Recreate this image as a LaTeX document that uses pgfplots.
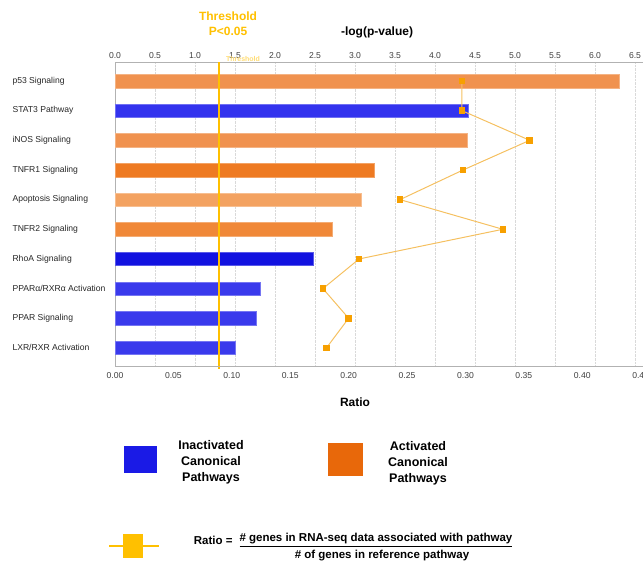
\documentclass[border=0pt]{standalone}
\usepackage{fontspec}
\setmainfont{Liberation Sans}
\usepackage{pgfplots}
\pgfplotsset{compat=1.18}
\definecolor{thr}{HTML}{FFC000}
\definecolor{orA}{HTML}{F0924F}
\definecolor{orB}{HTML}{EE7A22}
\definecolor{orC}{HTML}{F3A261}
\definecolor{orD}{HTML}{F08838}
\definecolor{blA}{HTML}{3333EE}
\definecolor{blB}{HTML}{1212E0}
\definecolor{blC}{HTML}{3A3AEC}
\definecolor{lineor}{HTML}{F5C060}
\definecolor{markor}{HTML}{F7A000}
\definecolor{legblue}{HTML}{1A1AE6}
\definecolor{legor}{HTML}{E8680A}
\newcommand{\ticksize}{\fontsize{8.6bp}{10bp}\selectfont}
\begin{document}
\begin{tikzpicture}[x=1bp,y=1bp]
\useasboundingbox (0,0) rectangle (643,-563);
% bars axis (-log p)
\begin{axis}[
  at={(115bp,-62bp)}, anchor=north west,
  scale only axis, width=528bp, height=304bp,
  xmin=0, xmax=6.6, ymin=-0.64, ymax=9.61, y dir=reverse,
  clip=false,
  axis x line*=top, axis y line*=left,
  axis line style={gray!60, line width=0.8pt},
  xtick={0,0.5,...,6.5},
  xticklabel style={font=\ticksize, text=black!75, /pgf/number format/fixed, /pgf/number format/fixed zerofill, /pgf/number format/precision=1, /pgf/number format/assume math mode=true},
  major tick length=0pt,
  xmajorgrids, grid style={gray!30, densely dotted, line width=0.5pt},
  ytick={0,...,9},
  yticklabels={p53 Signaling, STAT3 Pathway, iNOS Signaling, TNFR1 Signaling, Apoptosis Signaling, TNFR2 Signaling, RhoA Signaling, PPARα/RXRα Activation, PPAR Signaling, LXR/RXR Activation},
  yticklabel style={font=\ticksize, text=black!85, anchor=west, xshift=-106bp},
]
\addplot[xbar, bar shift=0pt, bar width=13.5bp, fill=orA, draw=orA!70!white] coordinates {(6.30,0)};
\addplot[xbar, bar shift=0pt, bar width=13.5bp, fill=blA, draw=blA!70!white] coordinates {(4.41,1)};
\addplot[xbar, bar shift=0pt, bar width=13.5bp, fill=orA, draw=orA!70!white] coordinates {(4.40,2)};
\addplot[xbar, bar shift=0pt, bar width=13.5bp, fill=orB, draw=orB!70!white] coordinates {(3.24,3)};
\addplot[xbar, bar shift=0pt, bar width=13.5bp, fill=orC, draw=orC!70!white] coordinates {(3.08,4)};
\addplot[xbar, bar shift=0pt, bar width=13.5bp, fill=orD, draw=orD!70!white] coordinates {(2.71,5)};
\addplot[xbar, bar shift=0pt, bar width=13.5bp, fill=blB, draw=blB!70!white] coordinates {(2.48,6)};
\addplot[xbar, bar shift=0pt, bar width=13.5bp, fill=blC, draw=blC!70!white] coordinates {(1.81,7)};
\addplot[xbar, bar shift=0pt, bar width=13.5bp, fill=blC, draw=blC!70!white] coordinates {(1.76,8)};
\addplot[xbar, bar shift=0pt, bar width=13.5bp, fill=blC, draw=blC!70!white] coordinates {(1.50,9)};
% threshold -log(0.05)
\addplot[thr, line width=2.5bp] coordinates {(1.3,-0.64) (1.3,9.72)};
\end{axis}
% ratio axis
\begin{axis}[
  at={(115bp,-62bp)}, anchor=north west,
  scale only axis, width=528bp, height=304bp,
  xmin=0, xmax=0.452, ymin=-0.64, ymax=9.61, y dir=reverse,
  axis x line*=bottom, axis y line=none,
  axis line style={gray!60, line width=0.8pt},
  xtick={0,0.05,...,0.45},
  xticklabel style={font=\ticksize, text=black!75, yshift=-3bp, /pgf/number format/fixed, /pgf/number format/fixed zerofill, /pgf/number format/precision=2, /pgf/number format/assume math mode=true},
  major tick length=0pt,
  ytick=\empty,
]
\addplot[lineor, line width=1pt, mark=square*, mark size=2.8bp, mark options={fill=markor, draw=markor}]
 coordinates {(0.297,0) (0.297,1) (0.355,2) (0.298,3) (0.244,4) (0.332,5) (0.209,6) (0.178,7) (0.200,8) (0.181,9)};
\end{axis}
% titles
\node[font=\fontsize{12bp}{14bp}\selectfont\bfseries] at (377,-32) {-log(p-value)};
\node[font=\fontsize{12bp}{15bp}\selectfont\bfseries, text=thr, align=center] at (228,-24) {Threshold\\P<0.05};
\node[font=\fontsize{7bp}{8bp}\selectfont\bfseries, text=thr!55] at (243,-59) {Threshold};
\node[font=\fontsize{12bp}{14bp}\selectfont\bfseries] at (355,-402) {Ratio};
% legend
\fill[legblue] (124,-446) rectangle (157,-473);
\node[font=\fontsize{12.5bp}{16bp}\selectfont\bfseries, align=center] at (211,-462) {Inactivated\\Canonical\\Pathways};
\fill[legor] (328,-443) rectangle (363,-476);
\node[font=\fontsize{12.5bp}{16bp}\selectfont\bfseries, align=center] at (418,-463) {Activated\\Canonical\\Pathways};
\draw[thr, line width=1.5bp] (109,-546) -- (159,-546);
\fill[thr] (123,-534) rectangle (143,-558);
\node[font=\fontsize{11.5bp}{14bp}\selectfont\bfseries, anchor=east] at (236,-540) {Ratio =};
\node[font=\fontsize{11.5bp}{14bp}\selectfont\bfseries, anchor=west] at (236,-540) {\underline{\# genes in RNA-seq data associated with pathway}};
\node[font=\fontsize{11.5bp}{14bp}\selectfont\bfseries] at (382,-556) {\# of genes in reference pathway};
\end{tikzpicture}
\end{document}
